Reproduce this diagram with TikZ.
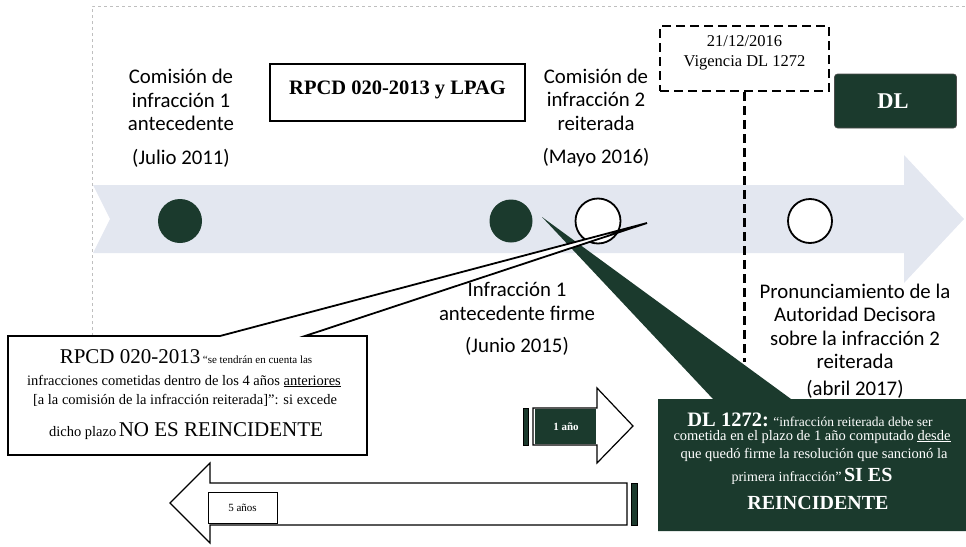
\documentclass[tikz,border=0pt]{standalone}
\usepackage{fontspec}
\setmainfont{Liberation Serif}
\newfontfamily\calib{Carlito}
\definecolor{dkgreen}{RGB}{27,58,45}
\definecolor{bandcol}{RGB}{227,231,240}
\begin{document}
\begin{tikzpicture}[x=1pt,y=-1pt,
  lbl/.style={font=\calib\fontsize{20.8}{23.5}\selectfont, align=center, inner sep=0pt},
  dot/.style={circle, fill=dkgreen, inner sep=0pt, minimum size=#1},
  ring/.style={circle, draw=black, line width=1.8pt, fill=white, inner sep=0pt, minimum size=#1},
  wtxt/.style={text=white, anchor=base, inner sep=0pt},
  btxt/.style={text=black, anchor=base, inner sep=0pt},
  small/.style={font=\fontsize{14.5}{17}\selectfont}]
\useasboundingbox (0,0) rectangle (966,546);
% faint frame of the scan
\draw[black!25, dashed, line width=0.6pt] (92,336) -- (92,6) -- (966,6);
% timeline band
\fill[bandcol] (93,185) -- (904,185) -- (904,155) -- (964,219) -- (904,283) -- (904,253) -- (93,253) -- (110,219) -- cycle;
% events
\node[dot=44pt] (c1) at (180,221) {};
\node[dot=43pt] (c2) at (511,221) {};
\node[ring=45pt] (c3) at (598,221) {};
\node[ring=44pt] (c4) at (810,221) {};
% labels
\node[lbl] (l1) at (181,118) {Comisión de\\infracción 1\\antecedente\\[10pt](Julio 2011)};
\node[lbl] (l2) at (596,118) {Comisión de\\infracción 2\\reiterada\\[10pt](Mayo 2016)};
\node[lbl] (l3) at (517,319) {Infracción 1\\antecedente firme\\[9pt](Junio 2015)};
\node[lbl] (l4) at (855,341) {Pronunciamiento de la\\Autoridad Decisora\\sobre la infracción 2\\reiterada\\[3pt](abril 2017)};
% headers
\node[draw, line width=2.8pt, minimum width=255pt, minimum height=57pt, inner sep=0pt] (rpcd) at (397.5,92.5) {};
\node[inner sep=0pt, font=\bfseries\fontsize{20.5}{24}\selectfont] (rpcdt) at (397.5,90) {RPCD 020-2013 y LPAG};
\node[draw, dash pattern=on 9pt off 5pt, line width=2.6pt, minimum width=169pt, minimum height=65pt, inner sep=0pt] (vig) at (744.5,58.5) {};
\node[inner sep=0pt, align=center, font=\fontsize{16.5}{20}\selectfont] (vigt) at (744.5,53) {21/12/2016\\Vigencia DL 1272};
\coordinate (vend) at (744.5,362);
\draw[dash pattern=on 9pt off 5pt, line width=2.6pt] (vig.south) -- (vend);
\node[fill=dkgreen, draw=black!70, line width=0.6pt, rounded corners=3pt, minimum width=122pt, minimum height=54pt, inner sep=0pt] (dl) at (895.5,101) {};
\node[text=white, inner sep=0pt, font=\bfseries\fontsize{22.5}{26}\selectfont] (dlt) at (893,101) {DL};
% 1 año arrow
\fill[dkgreen, draw=black, line width=0.8pt] (523,408) rectangle (528,445);
\draw[line width=1.2pt, fill=white] (533,408) -- (597,408) -- (597,388) -- (633,426) -- (597,463) -- (597,445) -- (533,445) -- cycle;
\fill[dkgreen] (535,409) rectangle (596.4,444);
\node[text=white, inner sep=0pt, font=\bfseries\fontsize{11}{13}\selectfont] (uno) at (566,427) {1 año};
% 5 años arrow
\draw[line width=1.2pt, fill=white] (627,483) -- (210,483) -- (210,463) -- (170,503) -- (210,543) -- (210,525) -- (627,525) -- cycle;
\fill[dkgreen, draw=black, line width=0.8pt] (631,483) rectangle (637,525);
\node[draw, line width=1pt, fill=white, minimum width=69pt, minimum height=31pt, inner sep=0pt,
      font=\fontsize{11}{13}\selectfont] (cinco) at (242.5,507.5) {5 años};
% DL 1272 callout (green)
\fill[dkgreen] (658,399) -- (713,399) -- (542,217) -- (791,399) -- (966,399) -- (966,531) -- (658,531) -- cycle;
\node[wtxt] (g1) at (810,426) {{\bfseries\fontsize{20.5}{24}\selectfont DL 1272:}{\fontsize{13.5}{16}\selectfont{} “infracción reiterada debe ser}};
\node[wtxt, small] (g2) at (812,440) {cometida en el plazo de 1 año computado \underline{desde}};
\node[wtxt, small] (g3) at (814,458) {que quedó firme la resolución que sancionó la};
\node[wtxt] (g4) at (812,481) {{\fontsize{14}{16}\selectfont primera infracción”} {\bfseries\fontsize{20}{24}\selectfont SI ES}};
\node[wtxt, font=\bfseries\fontsize{20}{24}\selectfont] (g5) at (818,509) {REINCIDENTE};
% RPCD callout (white)
\draw[line width=1.8pt, fill=white, line join=miter] (8,336) -- (220,336) -- (647,223) -- (305,336) -- (367,336) -- (367,455) -- (8,455) -- cycle;
\node[btxt] (w1) at (186,363) {{\fontsize{21}{24}\selectfont RPCD 020-2013} {\fontsize{11}{13}\selectfont “se tendrán en cuenta las}};
\node[btxt, small] (w2) at (184,385) {infracciones cometidas dentro de los 4 años \underline{anteriores}};
\node[btxt, small] (w3) at (185,404) {[a la comisión de la infracción reiterada]”: si excede};
\node[btxt] (w4) at (186,436) {{\fontsize{14.5}{17}\selectfont dicho plazo} {\fontsize{21}{24}\selectfont NO ES REINCIDENTE}};
\end{tikzpicture}
\end{document}
